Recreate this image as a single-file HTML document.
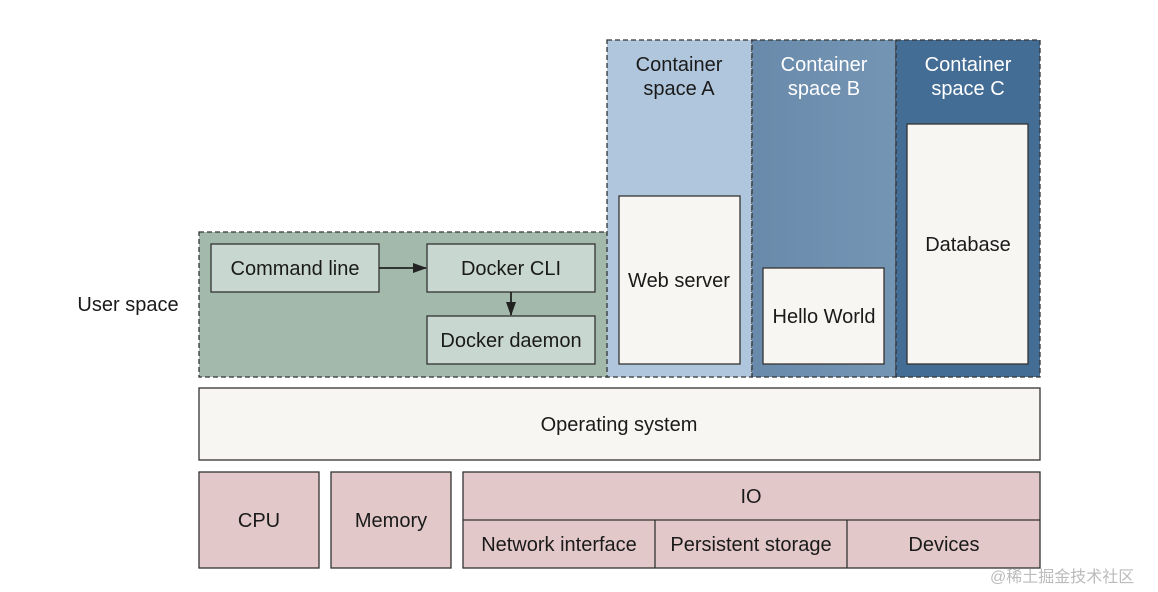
<!DOCTYPE html>
<html><head><meta charset="utf-8"><style>body{margin:0;background:#fff}svg{display:block}text{font-family:"Liberation Sans",sans-serif;font-size:20px;fill:#1a1a1a}</style></head><body>
<svg width="1158" height="592" viewBox="0 0 1158 592">
<defs><marker id="a" markerWidth="14" markerHeight="12" refX="13" refY="6" orient="auto" markerUnits="userSpaceOnUse"><path d="M0,1 L14,6 L0,11 z" fill="#222"/></marker>
<linearGradient id="gb" x1="0" x2="1"><stop offset="0" stop-color="#6a8aab"/><stop offset="1" stop-color="#7595b5"/></linearGradient></defs>
<rect x="199" y="232" width="409" height="145" fill="#a2b9ac" stroke="#333" stroke-width="1.3" stroke-dasharray="5,3"/>
<rect x="607" y="40" width="145" height="337" fill="#b0c6dc" stroke="#333" stroke-width="1.3" stroke-dasharray="5,3"/>
<rect x="752" y="40" width="144" height="337" fill="url(#gb)" stroke="#333" stroke-width="1.3" stroke-dasharray="5,3"/>
<rect x="896" y="40" width="144" height="337" fill="#446d95" stroke="#333" stroke-width="1.3" stroke-dasharray="5,3"/>
<g stroke="#333" stroke-width="1.3" fill="#c8d8d0">
<rect x="211" y="244" width="168" height="48"/><rect x="427" y="244" width="168" height="48"/><rect x="427" y="316" width="168" height="48"/></g>
<line x1="379" y1="268" x2="426" y2="268" stroke="#222" stroke-width="1.8" marker-end="url(#a)"/>
<line x1="511" y1="292" x2="511" y2="315" stroke="#222" stroke-width="1.8" marker-end="url(#a)"/>
<g stroke="#333" stroke-width="1.3" fill="#f8f6f3">
<rect x="619" y="196" width="121" height="168"/><rect x="763" y="268" width="121" height="96"/><rect x="907" y="124" width="121" height="240"/>
<rect x="199" y="388" width="841" height="72"/></g>
<g stroke="#333" stroke-width="1.3" fill="#e2c8c8">
<rect x="199" y="472" width="120" height="96"/><rect x="331" y="472" width="120" height="96"/><rect x="463" y="472" width="577" height="96"/>
<line x1="463" y1="520" x2="1040" y2="520"/><line x1="655" y1="520" x2="655" y2="568"/><line x1="847" y1="520" x2="847" y2="568"/></g>
<g text-anchor="middle">
<text x="295" y="275">Command line</text><text x="511" y="275">Docker CLI</text><text x="511" y="347">Docker daemon</text>
<text x="679" y="71">Container</text><text x="679" y="95">space A</text>
<text x="824" y="71" style="fill:#fff">Container</text><text x="824" y="95" style="fill:#fff">space B</text>
<text x="968" y="71" style="fill:#fff">Container</text><text x="968" y="95" style="fill:#fff">space C</text>
<text x="679" y="287">Web server</text><text x="824" y="323">Hello World</text><text x="968" y="251">Database</text>
<text x="619" y="431">Operating system</text>
<text x="259" y="527">CPU</text><text x="391" y="527">Memory</text><text x="751" y="503">IO</text>
<text x="559" y="551">Network interface</text><text x="751" y="551">Persistent storage</text><text x="944" y="551">Devices</text>
<text x="128" y="311">User space</text></g>
<text x="990" y="582" style="font-size:16px;fill:#bbb;font-family:'Liberation Sans','Noto Sans CJK SC',sans-serif">@稀土掘金技术社区</text>
</svg></body></html>
